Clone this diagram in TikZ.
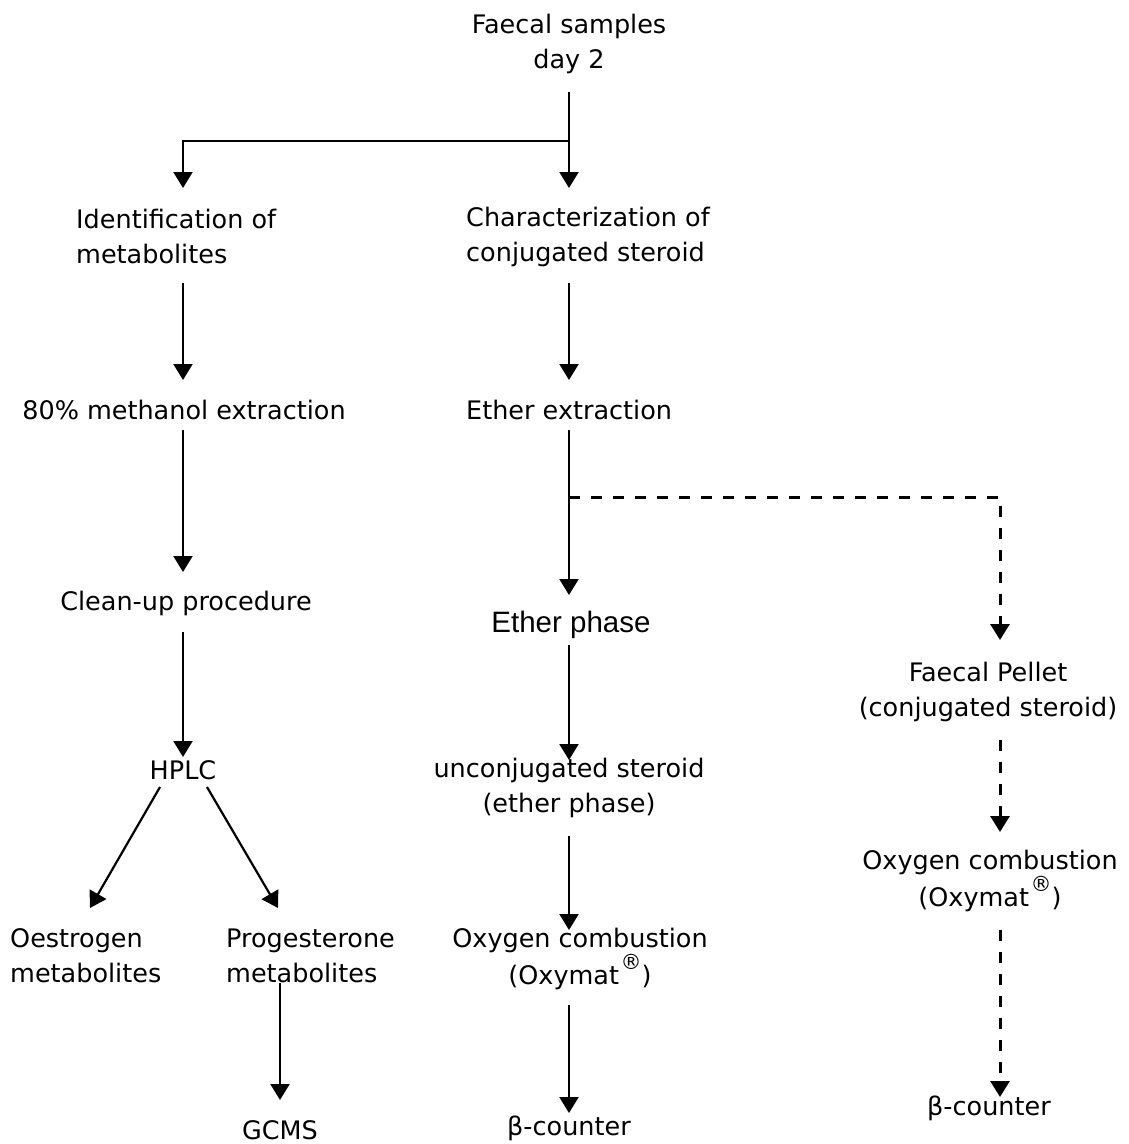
\documentclass[tikz,border=0pt]{standalone}
\usepackage{fontspec}
\setmainfont{DejaVu Sans}
\newfontfamily\arialf{Liberation Sans}
\usetikzlibrary{arrows.meta}
\newcommand{\regmark}{\kern1.5pt\raisebox{1.05ex}{\fontsize{21}{21}\selectfont ®}}
\begin{document}
\begin{tikzpicture}[x=1pt,y={(0,-1pt)},
  txt/.style={inner sep=0pt,font=\fontsize{25.5}{35}\selectfont},
  ltxt/.style={txt,anchor=west,align=left},
  ctxt/.style={txt,anchor=center,align=center},
  arr/.style={line width=2.2pt,-{Triangle[length=16pt,width=19pt]}},
  darr/.style={line width=3pt,dash pattern=on 11pt off 11pt,-{Triangle[length=16pt,width=19pt]}}]
\useasboundingbox (0,0) rectangle (1129,1144);
% nodes
\node[ctxt] (fs) at (569,44) {Faecal samples\\day 2};
\node[ltxt] (id) at (76,236) {Identification of\\metabolites};
\node[ltxt] (ch) at (466,237) {Characterization of\\conjugated steroid};
\node[ctxt] (meth) at (184,410) {80\% methanol extraction};
\node[ltxt] (ee) at (466,410) {Ether extraction};
\node[ctxt] (cu) at (186,603) {Clean-up procedure};
\node[txt,font=\arialf\fontsize{29.5}{35}\selectfont] (ep) at (571,625) {Ether phase};
\node[ctxt] (fp) at (988,692) {Faecal Pellet\\(conjugated steroid)};
\node[ctxt] (hplc) at (183,770) {HPLC};
\node[ctxt] (us) at (569,788) {unconjugated steroid\\(ether phase)};
\node[ltxt] (oe) at (10,956) {Oestrogen\\metabolites};
\node[ltxt] (pr) at (226,956) {Progesterone\\metabolites};
\node[ctxt] (oc1) at (580,959) {Oxygen combustion\\(Oxymat\regmark)};
\node[ctxt] (oc2) at (990,881) {Oxygen combustion\\(Oxymat\regmark)};
\node[ctxt] (gc) at (280,1130) {GCMS};
\node[ctxt] (bc1) at (569,1128) {β-counter};
\node[ctxt] (bc2) at (989,1108) {β-counter};
% connector end points
\coordinate (fsout) at (569,92);
\coordinate (jn) at (569,141);
\coordinate (jl) at (183,141);
\coordinate (idin) at (183,188);
\coordinate (chin) at (569,188);
\coordinate (idout) at (183,283);
\coordinate (methin) at (183,380);
\coordinate (chout) at (569,283);
\coordinate (eein) at (569,380);
\coordinate (methout) at (183,430);
\coordinate (cuin) at (183,572);
\coordinate (eeout) at (569,430);
\coordinate (epin) at (569,595);
\coordinate (dj) at (569,497);
\coordinate (dr) at (1000,497);
\coordinate (fpin) at (1000,640);
\coordinate (cuout) at (183,632);
\coordinate (hplcin) at (183,757);
\coordinate (epout) at (569,645);
\coordinate (usin) at (569,760);
\coordinate (hplcl) at (160,787);
\coordinate (oein) at (90,908);
\coordinate (hplcr) at (207,787);
\coordinate (prin) at (278,908);
\coordinate (usout) at (569,836);
\coordinate (oc1in) at (569,930);
\coordinate (oc1out) at (569,1005);
\coordinate (bc1in) at (569,1113);
\coordinate (fpout) at (1000,740);
\coordinate (oc2in) at (1000,832);
\coordinate (oc2out) at (1000,930);
\coordinate (bc2in) at (1000,1097);
\coordinate (prout) at (280,983);
\coordinate (gcin) at (280,1100);
% connectors
\draw[arr] (fsout) -- (chin);
\draw[arr] (jn) -- (jl) -- (idin);
\draw[arr] (idout) -- (methin);
\draw[arr] (chout) -- (eein);
\draw[arr] (methout) -- (cuin);
\draw[arr] (eeout) -- (epin);
\draw[darr] (dj) -- (dr) -- (fpin);
\draw[arr] (cuout) -- (hplcin);
\draw[arr] (epout) -- (usin);
\draw[arr] (hplcl) -- (oein);
\draw[arr] (hplcr) -- (prin);
\draw[arr] (usout) -- (oc1in);
\draw[arr] (oc1out) -- (bc1in);
\draw[darr] (fpout) -- (oc2in);
\draw[darr] (oc2out) -- (bc2in);
\draw[arr] (prout) -- (gcin);
\end{tikzpicture}
\end{document}
